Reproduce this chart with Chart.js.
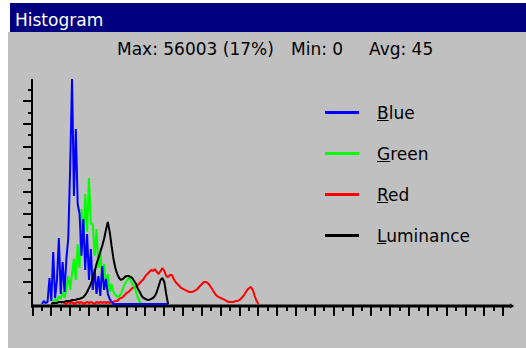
<!DOCTYPE html>
<html>
<head>
<meta charset="utf-8">
<script src="https://cdn.jsdelivr.net/npm/chart.js@4/dist/chart.umd.min.js"></script>
<style>
  html, body { margin: 0; padding: 0; background: #ffffff; }
  #frame { position: relative; width: 526px; height: 348px; overflow: hidden; font-family: "DejaVu Sans", sans-serif; }
  #panel { position: absolute; left: 8px; top: 32px; right: 0; bottom: 0; background: #c0c0c0; }
  #titlebar { position: absolute; left: 10px; top: 3px; right: 0; height: 29px; background: #000080; }
  .txt { position: absolute; font-size: 17px; line-height: 17px; white-space: pre; color: #000; }
  #title { left: 15px; top: 12px; color: #ffffff; }
  .swatch { position: absolute; left: 325px; width: 34px; height: 3px; }
  canvas { position: absolute; left: 0; top: 0; }
</style>
</head>
<body>
<div id="frame">
  <div id="panel"></div>
  <div id="titlebar"></div>
  <div id="title" class="txt">Histogram</div>
  <div id="stats"></div>
  <div id="legend"></div>
  <canvas id="hist" width="526" height="348"></canvas>
</div>
<script>
// Grey levels 0..255 along the horizontal axis
const levels = Array.from({ length: 256 }, (_, i) => i);

// Pixel counts per grey level (null = no samples drawn)
const blueCounts = [null, null, null, null, null,
  0, 750, 250, 500, 6470, 750, 12950, 1500, 6000, 16430,
  2500, 10460, 3000, 11210, 16430, 34110, 56003, 26890, 43580, 24900,
  22410, 12000, 21170, 8500, 17430, 6000, 13700, 3500, 8720, 2500,
  6970, 2000, 9460, 3500, 6230, 2490, 1250, 500,
  0, 0, 0, 0, 0, 0, 0, 0, 0, 0, 0, 0, 0, 0, 0,
  0, 0, 0, 0, 0, 0, 0, 0, 0, 0, 0, 0, 0, 0, 0];

const greenCounts = [null, null, null, null, null, null, null, null, null, null, null,
  500, 1250, 750, 1990, 1250, 2990, 1500, 3740, 6970, 3500,
  7470, 11210, 6000, 14940, 9000, 23660, 14000, 27390, 18000, 31370,
  20000, 19920, 12000, 18680, 9000, 13700, 6000, 9960, 5000, 7470,
  3000, 4980, 2990, 2240, 1740, 1990, 2490, 3740, 4980, 5730,
  6470, 5980, 4980, 4480, 2990, 1490, 500, 0];

const redCounts = [null, null, null, null, null, null, null, null, null, null,
  null, null, null, null, null,
  250, 500, 250, 0, 500, 250, 500, 0, 250, 500,
  250, 500, 0, 250, 500, 250, 500, 250, 0, 500,
  250, 500, 250, 500, 250, 500, 250, 500, 500, 750,
  750, 1250, 1490, 1740, 2240, 2740, 2990, 3490, 3980, 4230,
  4230, 4730, 5230, 5730, 6220, 6970, 7470, 7970, 8470, 8220,
  8720, 7970, 7470, 8220, 8960, 8220, 6970, 6720, 7220, 7220,
  6230, 5480, 4980, 4480, 3980, 3740, 3490, 3240, 2990, 2990,
  2990, 3240, 3490, 3980, 4480, 4980, 5480, 5480, 5230, 4730,
  3980, 3240, 2490, 1990, 1740, 1490, 1250, 1000, 750, 500,
  500, 500, 500, 750, 750, 1000, 1490, 1990, 2740, 3490,
  3980, 4230, 3490, 1990, 750, 0];

const lumaCounts = [null, null, null, null, null, null, null, null, null, null,
  0, 250, 250, 250, 500, 500, 500, 500, 750, 750,
  750, 1000, 1000, 1000, 1250, 1250, 1490, 1740, 2240, 2990,
  3980, 4980, 6470, 7970, 9960, 11450, 12950, 14440, 16190, 18430,
  20420, 17930, 14440, 11210, 8960, 7470, 6470, 5980, 6230, 6720,
  6970, 6970, 6720, 6470, 5730, 4980, 3740, 2990, 1990, 1490,
  1250, 1000, 1000, 1250, 1490, 1990, 2990, 4480, 5980, 6470,
  5480, 2490, 0];

const seriesNames = ["Blue", "Green", "Red", "Luminance"];
const seriesColors = ["#0000ff", "#00ff00", "#ff0000", "#000000"];
const seriesData = [blueCounts, greenCounts, redCounts, lumaCounts];
const drawOrder = [1, 2, 3, 0];

const maxCount = 56003;
const maxShare = "17%";
const minLevel = 0;
const avgLevel = 45;

// Statistics line above the plot
const statsItems = [
  { text: "Max: " + maxCount + " (" + maxShare + ")", left: 117 },
  { text: "Min: " + minLevel, left: 291 },
  { text: "Avg: " + avgLevel, left: 369 }
];
const statsBox = document.getElementById("stats");
statsItems.forEach(s => {
  const d = document.createElement("div");
  d.className = "txt";
  d.style.left = s.left + "px";
  d.style.top = "41px";
  d.textContent = s.text;
  statsBox.appendChild(d);
});

// Legend: colour swatch plus name with its access-key letter underlined
const legendBox = document.getElementById("legend");
seriesNames.forEach((name, i) => {
  const y = 112 + i * 41;
  const sw = document.createElement("div");
  sw.className = "swatch";
  sw.style.top = (y - 1) + "px";
  sw.style.background = seriesColors[i];
  legendBox.appendChild(sw);
  const t = document.createElement("div");
  t.className = "txt";
  t.style.left = "377px";
  t.style.top = (y - 7) + "px";
  const u = document.createElement("u");
  u.textContent = name.charAt(0);
  t.appendChild(u);
  t.appendChild(document.createTextNode(name.slice(1)));
  legendBox.appendChild(t);
});

// Axes with alternating long/short tick marks, drawn under the curves
const histogramAxes = {
  id: "histogramAxes",
  beforeDatasetsDraw(chart) {
    const ctx = chart.ctx;
    const xs = chart.scales.x, ys = chart.scales.y;
    const x0 = xs.getPixelForValue(0) - 0.5;
    const y0 = ys.getPixelForValue(0) + 2;
    const yTop = ys.getPixelForValue(maxCount);
    const xEnd = xs.getPixelForValue(255) + 0.5;
    ctx.save();
    ctx.fillStyle = "#000";
    // vertical axis
    ctx.fillRect(x0 - 1, yTop, 2, y0 - yTop + 1.5);
    // horizontal axis with arrow tip
    ctx.fillRect(x0 - 1, y0 - 1.5, xEnd - x0 - 2, 3);
    ctx.beginPath();
    ctx.moveTo(xEnd - 3, y0 - 2.5);
    ctx.lineTo(xEnd + 1, y0);
    ctx.lineTo(xEnd - 3, y0 + 2.5);
    ctx.closePath();
    ctx.fill();
    // vertical-axis ticks: 20 steps, every second one long
    const step = maxCount / 20;
    for (let i = 1; i < 20; i++) {
      const py = Math.round(ys.getPixelForValue(i * step));
      const len = i % 2 === 0 ? 9 : 4;
      ctx.fillRect(x0 - len, py - 1, len, 2);
    }
    // horizontal-axis ticks every 5 levels, long every 10
    for (let v = 0; v <= 250; v += 5) {
      const px = Math.round(xs.getPixelForValue(v));
      const len = v % 10 === 0 ? 9 : 4;
      ctx.fillRect(px - 1, y0 + 1, 2, len);
    }
    ctx.restore();
  }
};

new Chart(document.getElementById("hist"), {
  type: "line",
  data: {
    labels: levels,
    datasets: seriesNames.map((name, i) => ({
      label: name,
      data: seriesData[i],
      borderColor: seriesColors[i],
      backgroundColor: seriesColors[i],
      borderWidth: 2,
      borderJoinStyle: "bevel",
      pointRadius: 0,
      tension: 0,
      fill: false,
      spanGaps: false,
      clip: false,
      order: drawOrder[i]
    }))
  },
  options: {
    responsive: false,
    animation: false,
    devicePixelRatio: 1,
    layout: { padding: { left: 32.5, right: 13.3, top: 79, bottom: 44 } },
    plugins: { legend: { display: false }, tooltip: { enabled: false }, title: { display: false } },
    scales: {
      x: { type: "category", display: false },
      y: { min: 0, max: maxCount, display: false }
    }
  },
  plugins: [histogramAxes]
});
</script>
</body>
</html>
